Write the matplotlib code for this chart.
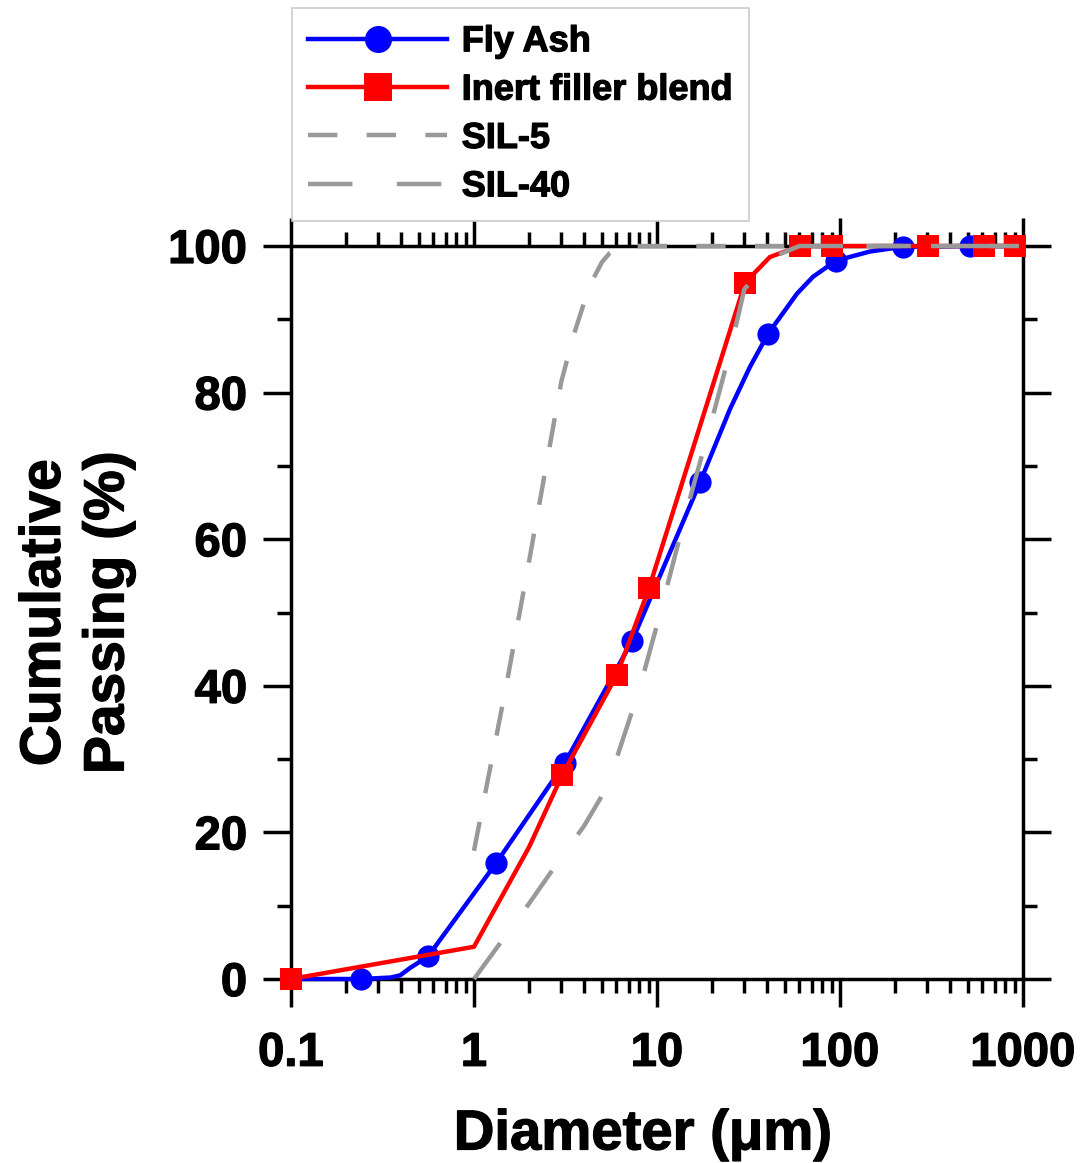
import numpy as np
import matplotlib.pyplot as plt
import matplotlib.patheffects as pe
from matplotlib.lines import Line2D
from matplotlib.ticker import LogLocator, MultipleLocator, NullFormatter

plt.rcParams['font.family'] = ['Liberation Sans', 'DejaVu Sans']
plt.rcParams['font.weight'] = 'bold'

fly_ash_size = [0.1, 0.241, 0.35, 0.395, 0.447, 0.561, 1.32, 3.14, 7.3, 17.2,
                25.1, 32.2, 40.4, 58.2, 71.2, 95, 146, 222, 513, 1000]
fly_ash_pass = [0, 0, 0.2, 0.5, 1.5, 3.1, 15.8, 29.5, 46.1, 67.8,
                77.8, 83.5, 88.0, 93.5, 95.8, 98.0, 99.25, 99.9, 100, 100]
fly_ash_marked = [1, 5, 6, 7, 8, 9, 12, 15, 17, 18]

# inert filler blend
inert_size = [0.1, 1.0, 2.0, 3.03, 6.04, 9.04, 30.3, 41.4, 60.4, 90.4, 303, 612, 904]
inert_pass = [0, 4.4, 18.0, 27.8, 41.5, 53.3, 95.0, 98.5, 100, 100, 100, 100, 100]
inert_marked = [0, 3, 4, 5, 6, 8, 9, 10, 11, 12]

# reference silicas
sil5_size = [1, 1.5, 2, 2.5, 3, 3.5, 4, 4.5, 5, 5.5, 6.5, 1000]
sil5_pass = [17.5, 40, 57, 70.5, 81.5, 87.8, 92.3, 95.6, 97.8, 99, 100, 100]

sil40_size = [1, 2, 3, 4, 5, 6, 8, 10, 15, 20, 25, 30, 43, 60, 1000]
sil40_pass = [0, 10.3, 16.6, 20.9, 25.0, 30.0, 39.5, 48.3, 65.2, 76.4, 85.5, 94.1, 98.5, 100, 100]

labels = ['Fly Ash', 'Inert filler blend', 'SIL-5', 'SIL-40']
blue = '#0000ff'
red = '#ff0000'
gray = '#999999'
heavy = [pe.withStroke(linewidth=0.9, foreground='black')]

fig = plt.figure(figsize=(10.87, 11.63), dpi=100)
ax = fig.add_axes([291/1087, 1-979/1163, 732/1087, 733/1163])

ax.plot(fly_ash_size, fly_ash_pass, color=blue, lw=3.2, zorder=3, clip_on=False)
ax.plot([fly_ash_size[i] for i in fly_ash_marked], [fly_ash_pass[i] for i in fly_ash_marked],
        'o', color=blue, ms=16, mew=0, zorder=3, clip_on=False)

ax.plot(inert_size, inert_pass, color=red, lw=3.2, zorder=4, clip_on=False)
ax.plot([inert_size[i] for i in inert_marked], [inert_pass[i] for i in inert_marked],
        's', color=red, ms=16, mew=0, zorder=4, clip_on=False)

ax.plot(sil5_size, sil5_pass, color=gray, lw=3.2, dashes=(6.6, 6.6), zorder=5, clip_on=False)
ax.plot(sil40_size, sil40_pass, color=gray, lw=3.2, dashes=(10, 10), zorder=5, clip_on=False)

ax.set_xscale('log')
ax.set_xlim(0.1, 1000)
ax.set_ylim(0, 100)
ax.set_xticks([0.1, 1, 10, 100, 1000], ['0.1', '1', '10', '100', '1000'])
ax.xaxis.set_minor_locator(LogLocator(subs=np.arange(2, 10)))
ax.xaxis.set_minor_formatter(NullFormatter())
ax.yaxis.set_major_locator(MultipleLocator(20))
ax.yaxis.set_minor_locator(MultipleLocator(10))

ax.tick_params(which='both', direction='out', top=True, right=True, width=2.5)
ax.tick_params(which='major', length=20, labelsize=34)
ax.tick_params(which='minor', length=10)
ax.tick_params(axis='x', which='major', pad=18)
ax.tick_params(axis='y', which='major', pad=11.5)
for s in ax.spines.values():
    s.set_linewidth(2.5)
for t in ax.get_xticklabels() + ax.get_yticklabels():
    t.set_path_effects(heavy)

ax.set_xlabel('Diameter (μm)', fontsize=40.5, fontweight='bold', path_effects=heavy)
ax.xaxis.set_label_coords(0.481, -0.178)
ax.xaxis.label.set_va('top')
ax.set_ylabel('Cumulative\nPassing (%)', fontsize=41, fontweight='bold',
              linespacing=1.23, labelpad=23.5, path_effects=heavy)

handles = [
    Line2D([], [], color=blue, lw=3.2, marker='o', ms=19.5, mew=0),
    Line2D([], [], color=red, lw=3.2, marker='s', ms=19.5, mew=0),
    Line2D([], [], color=gray, lw=3.2, dashes=(6.6, 6.6)),
    Line2D([], [], color=gray, lw=3.2, dashes=(10, 10)),
]
leg = fig.legend(handles, labels, loc='upper left',
                 bbox_to_anchor=(292/1087, 1-8/1163), bbox_transform=fig.transFigure,
                 borderaxespad=0, fontsize=26, fancybox=False, edgecolor='#cccccc',
                 framealpha=1, handlelength=3.85, handletextpad=0.4,
                 borderpad=0.45, labelspacing=0.37)
leg.get_frame().set_linewidth(1.2)
for t in leg.get_texts():
    t.set_path_effects(heavy)

fig.savefig('out.png', dpi=100)
